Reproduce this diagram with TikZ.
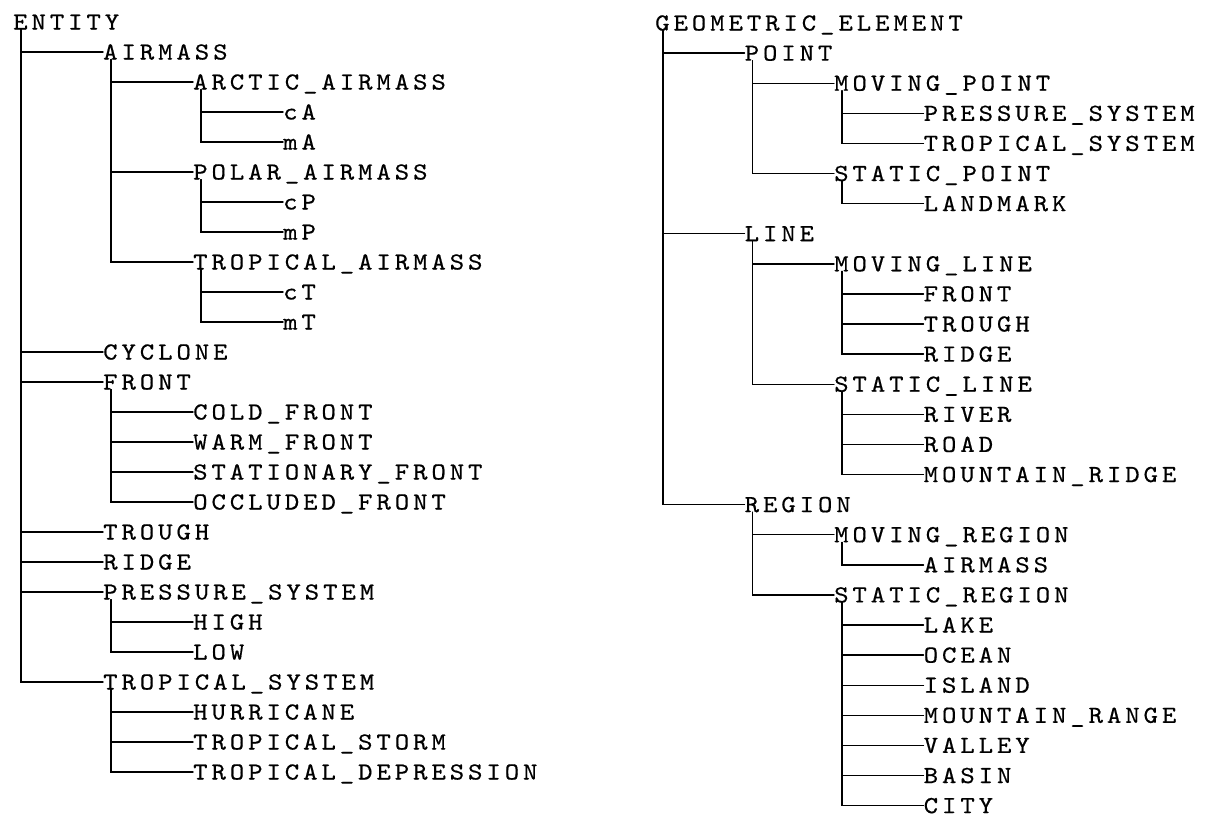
\documentclass[tikz,border=0pt]{standalone}
\usepackage{fontspec}
\usepackage{tikz}
\newfontfamily\treefont[FakeStretch=1.12,LetterSpace=16,FakeBold=0.5]{lmmono10-regular.otf}
\tikzset{tnode/.style={anchor=west,inner sep=0pt,text height=15pt,text depth=0pt,font=\treefont\fontsize{24.5}{29}\selectfont},
  tline/.style={line width=1.4pt,line cap=round}}
\newcommand{\enode}[4]{\node[tnode] (#1) at ({13+90*#2},{22+30*#3}) {#4};}
\newcommand{\gnode}[4]{\node[tnode] (#1) at ({655+89.5*#2},{23+30.1*#3}) {#4};}
\newcommand{\lnk}[2]{\draw[tline] ([xshift=8pt]#1.south west) |- (#2.west);}

\begin{document}
\begin{tikzpicture}[x=1pt,y=-1pt]
\useasboundingbox (0,0) rectangle (1207,817);
% entity tree
\enode{entity}{0}{0}{ENTITY}
\enode{airmass}{1}{1}{AIRMASS}
\enode{arctic}{2}{2}{ARCTIC\_AIRMASS} \enode{ca}{3}{3}{cA} \enode{ma}{3}{4}{mA}
\enode{polar}{2}{5}{POLAR\_AIRMASS} \enode{cp}{3}{6}{cP} \enode{mp}{3}{7}{mP}
\enode{tropair}{2}{8}{TROPICAL\_AIRMASS} \enode{ct}{3}{9}{cT} \enode{mt}{3}{10}{mT}
\enode{cyclone}{1}{11}{CYCLONE}
\enode{front}{1}{12}{FRONT}
\enode{cold}{2}{13}{COLD\_FRONT} \enode{warm}{2}{14}{WARM\_FRONT}
\enode{stat}{2}{15}{STATIONARY\_FRONT} \enode{occl}{2}{16}{OCCLUDED\_FRONT}
\enode{trough}{1}{17}{TROUGH}
\enode{ridge}{1}{18}{RIDGE}
\enode{press}{1}{19}{PRESSURE\_SYSTEM} \enode{high}{2}{20}{HIGH} \enode{low}{2}{21}{LOW}
\enode{tropsys}{1}{22}{TROPICAL\_SYSTEM}
\enode{hurr}{2}{23}{HURRICANE} \enode{storm}{2}{24}{TROPICAL\_STORM} \enode{depr}{2}{25}{TROPICAL\_DEPRESSION}
\lnk{entity}{airmass} \lnk{entity}{cyclone} \lnk{entity}{front} \lnk{entity}{trough}
\lnk{entity}{ridge} \lnk{entity}{press} \lnk{entity}{tropsys}
\lnk{airmass}{arctic} \lnk{airmass}{polar} \lnk{airmass}{tropair}
\lnk{arctic}{ca} \lnk{arctic}{ma} \lnk{polar}{cp} \lnk{polar}{mp} \lnk{tropair}{ct} \lnk{tropair}{mt}
\lnk{front}{cold} \lnk{front}{warm} \lnk{front}{stat} \lnk{front}{occl}
\lnk{press}{high} \lnk{press}{low}
\lnk{tropsys}{hurr} \lnk{tropsys}{storm} \lnk{tropsys}{depr}
% geometric tree
\gnode{geo}{0}{0}{GEOMETRIC\_ELEMENT}
\gnode{point}{1}{1}{POINT}
\gnode{mpoint}{2}{2}{MOVING\_POINT} \gnode{gpress}{3}{3}{PRESSURE\_SYSTEM} \gnode{gtrop}{3}{4}{TROPICAL\_SYSTEM}
\gnode{spoint}{2}{5}{STATIC\_POINT} \gnode{landmark}{3}{6}{LANDMARK}
\gnode{line}{1}{7}{LINE}
\gnode{mline}{2}{8}{MOVING\_LINE} \gnode{gfront}{3}{9}{FRONT} \gnode{gtrough}{3}{10}{TROUGH} \gnode{gridge}{3}{11}{RIDGE}
\gnode{sline}{2}{12}{STATIC\_LINE} \gnode{river}{3}{13}{RIVER} \gnode{road}{3}{14}{ROAD} \gnode{mridge}{3}{15}{MOUNTAIN\_RIDGE}
\gnode{region}{1}{16}{REGION}
\gnode{mregion}{2}{17}{MOVING\_REGION} \gnode{gairmass}{3}{18}{AIRMASS}
\gnode{sregion}{2}{19}{STATIC\_REGION}
\gnode{lake}{3}{20}{LAKE} \gnode{ocean}{3}{21}{OCEAN} \gnode{island}{3}{22}{ISLAND} \gnode{mrange}{3}{23}{MOUNTAIN\_RANGE}
\gnode{valley}{3}{24}{VALLEY} \gnode{basin}{3}{25}{BASIN} \gnode{city}{3}{26}{CITY}
\lnk{geo}{point} \lnk{geo}{line} \lnk{geo}{region}
\lnk{point}{mpoint} \lnk{point}{spoint} \lnk{mpoint}{gpress} \lnk{mpoint}{gtrop} \lnk{spoint}{landmark}
\lnk{line}{mline} \lnk{line}{sline}
\lnk{mline}{gfront} \lnk{mline}{gtrough} \lnk{mline}{gridge}
\lnk{sline}{river} \lnk{sline}{road} \lnk{sline}{mridge}
\lnk{region}{mregion} \lnk{region}{sregion} \lnk{mregion}{gairmass}
\lnk{sregion}{lake} \lnk{sregion}{ocean} \lnk{sregion}{island} \lnk{sregion}{mrange}
\lnk{sregion}{valley} \lnk{sregion}{basin} \lnk{sregion}{city}
\end{tikzpicture}
\end{document}
